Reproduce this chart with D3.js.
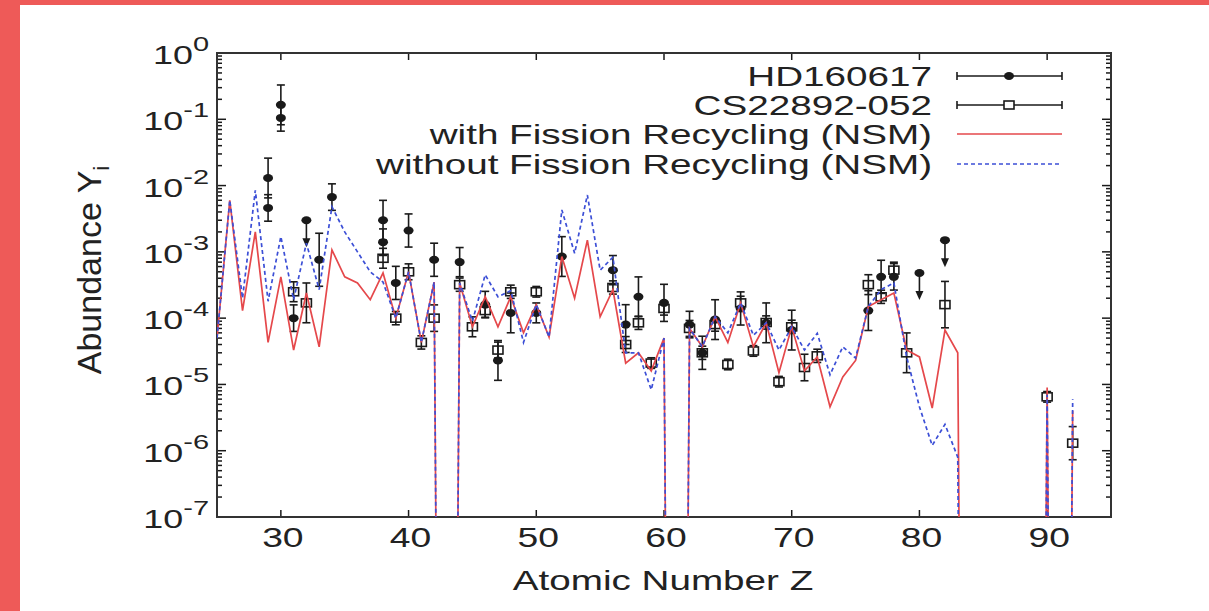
<!DOCTYPE html>
<html>
<head>
<meta charset="utf-8">
<script src="https://cdn.jsdelivr.net/npm/d3@7"></script>
<style>
  html, body { margin: 0; padding: 0; background: #fff; }
  svg text { font-family: "Liberation Sans", Arial, Helvetica, sans-serif; fill: #222; }
</style>
</head>
<body>
<div id="chart"></div>
<script>
// ---- data ----
const zGrid = d3.range(25, 93);   // 25 ... 92
// tiny = element with no abundance (Tc, Pm, Z>83 except Th/U)
const tiny = 1e-30;

// with fission recycling (NSM), red solid
const withFission = [
  5e-5, 6e-3, 1.3e-4, 2e-3, 4.3e-5, 4.2e-4, 3.3e-5, 2.4e-4, 3.7e-5, 1.07e-3,   // 25-34
  4.2e-4, 3.4e-4, 1.9e-4, 4.8e-4, 1e-4, 5e-4, 4.3e-5, 3.5e-4, tiny, 3.4e-4,     // 35-44
  7.4e-5, 2.1e-4, 7.4e-5, 2.1e-4, 6e-5, 1.6e-4, 5.2e-5, 8.5e-4, 2e-4, 1.5e-3,  // 45-54
  1.05e-4, 2.7e-4, 2.1e-5, 3e-5, 1.6e-5, 5e-5, tiny, 7e-5, 3.7e-5, 1.05e-4,     // 55-64
  4.3e-5, 1.7e-4, 3.7e-5, 8.5e-5, 1.5e-5, 7.4e-5, 1.6e-5, 2.6e-5, 4.6e-6, 1.3e-5, // 65-74
  2.3e-5, 1.5e-4, 1.9e-4, 2.4e-4, 3.3e-5, 2.6e-5, 4.4e-6, 6.6e-5, 3e-5, tiny,   // 75-84
  tiny, tiny, tiny, tiny, tiny, 9e-6, tiny, 4e-6                                  // 85-92
];

// without fission recycling (NSM), blue dashed
const withoutFission = [
  5e-5, 6e-3, 2e-4, 8.5e-3, 1.8e-4, 1.7e-3, 1.9e-4, 1.35e-3, 2.7e-4, 4.8e-3,    // 25-34
  2e-3, 1e-3, 5e-4, 3.5e-4, 1e-4, 5e-4, 4.3e-5, 3.5e-4, tiny, 3.4e-4,           // 35-44
  9e-5, 4.5e-4, 2.1e-4, 2.6e-4, 4.3e-5, 1.6e-4, 5.2e-5, 4.3e-3, 9.5e-4, 7.2e-3,  // 45-54
  5.3e-4, 8.3e-4, 3e-5, 3e-5, 8.3e-6, 5e-5, tiny, 7e-5, 3.7e-5, 1.05e-4,         // 55-64
  6e-5, 1.7e-4, 5.5e-5, 8.5e-5, 3.3e-5, 7.4e-5, 3.3e-5, 5.9e-5, 1.4e-5, 3.7e-5,  // 65-74
  2.5e-5, 1.5e-4, 2.7e-4, 3.4e-4, 2.6e-5, 4.6e-6, 1.2e-6, 2.5e-6, 8e-7, tiny,    // 75-84
  tiny, tiny, tiny, tiny, tiny, 7e-6, tiny, 6e-6                                   // 85-92
];

// HD160617 (filled circles), errors in dex
const hdZ   = [29, 29, 30, 30, 31, 33, 34, 38, 38, 39, 40, 42, 44, 46, 47, 48, 50, 52, 56, 57, 58, 60, 62, 63, 64, 66, 68, 70, 76, 77, 78];
const hdY   = [1.3e-2, 4.6e-3, 0.165, 0.105, 1e-4, 7.6e-4, 6.7e-3, 3e-3, 1.4e-3, 3.4e-4, 2.1e-3, 7.6e-4, 7e-4, 1.6e-4, 2.3e-5, 1.2e-4,
               1.2e-4, 8.5e-4, 5.3e-4, 8e-5, 2.1e-4, 1.7e-4, 8e-5, 3e-5, 9.5e-5, 1.4e-4, 8.5e-5, 6.6e-5, 1.3e-4, 4.2e-4, 4.2e-4];
const hdErr = [0.3, 0.2, 0.3, 0.2, 0.2, 0.4, 0.2, 0.3, 0.2, 0.25, 0.25, 0.25, 0.22, 0.2, 0.3, 0.3,
               0.15, 0.3, 0.22, 0.3, 0.3, 0.28, 0.2, 0.25, 0.3, 0.25, 0.3, 0.3, 0.3, 0.25, 0.2];
// HD160617 upper limits
const hdLimZ = [32, 80, 82];
const hdLimY = [3e-3, 4.8e-4, 1.5e-3];

// CS22892-052 (open squares), errors in dex
const csZ   = [31, 32, 38, 39, 40, 41, 42, 44, 45, 46, 47, 48, 50, 56, 57, 58, 59, 60, 62, 63, 64, 65, 66, 67, 68, 69, 70, 71, 72, 76, 77, 78, 79, 82, 90, 92];
const csY   = [2.5e-4, 1.7e-4, 8e-4, 1e-4, 5e-4, 4.3e-5, 1e-4, 3.2e-4, 7.4e-5, 1.3e-4, 3.3e-5, 2.5e-4, 2.5e-4, 2.9e-4, 4e-5, 8.5e-5, 2.1e-5, 1.4e-4,
               7e-5, 3e-5, 8e-5, 2e-5, 1.7e-4, 3.2e-5, 8.6e-5, 1.1e-5, 7.4e-5, 1.8e-5, 2.7e-5, 3.2e-4, 2.1e-4, 5.3e-4, 3e-5, 1.6e-4, 6.5e-6, 1.3e-6];
const csErr = [0.15, 0.3, 0.15, 0.1, 0.12, 0.1, 0.2, 0.1, 0.15, 0.1, 0.12, 0.1, 0.08, 0.1, 0.12, 0.1, 0.08, 0.1,
               0.12, 0.1, 0.1, 0.08, 0.1, 0.08, 0.1, 0.08, 0.1, 0.2, 0.1, 0.15, 0.1, 0.12, 0.3, 0.35, 0.08, 0.25];

const xTicks = [30, 40, 50, 60, 70, 80, 90];
const yExps  = [0, -1, -2, -3, -4, -5, -6, -7];
const legendLabels = ["HD160617", "CS22892-052", "with Fission Recycling (NSM)", "without Fission Recycling (NSM)"];

// ---- layout ----
const W = 1209, H = 611;
const plot = {left: 217, top: 53, right: 1111, bottom: 517};
const SX = 1.38;          // text in the source is stretched horizontally
const ink = "#1a1a1a";
const redCol = "#e5484b", blueCol = "#3c4fd6";

const svg = d3.select("#chart").append("svg")
    .attr("width", W)
    .attr("height", H);

// coral frame of the slide
svg.append("rect").attr("x", 0).attr("y", 0).attr("width", W).attr("height", 5).attr("fill", "#ee5a58");
svg.append("rect").attr("x", 0).attr("y", 0).attr("width", 20).attr("height", H).attr("fill", "#ee5a58");

const x = d3.scaleLinear().domain([25, 95]).range([plot.left, plot.right]);
const y = d3.scaleLog().domain([1e-7, 1]).range([plot.bottom, plot.top]);

// stretched text helper
function label(px, py, anchor, size) {
    return svg.append("g")
        .attr("transform", "translate(" + px + "," + py + ") scale(" + SX + ",1)")
      .append("text")
        .attr("text-anchor", anchor)
        .style("font-size", size + "px");
}

svg.append("clipPath").attr("id", "clip")
  .append("rect")
    .attr("x", plot.left).attr("y", plot.top)
    .attr("width", plot.right - plot.left).attr("height", plot.bottom - plot.top);

// ---- ticks (inward, mirrored) ----
const tickG = svg.append("g").attr("stroke", ink).attr("stroke-width", 1.5);
xTicks.forEach(function (t) {
    tickG.append("line").attr("x1", x(t)).attr("x2", x(t)).attr("y1", plot.bottom).attr("y2", plot.bottom - 7);
    tickG.append("line").attr("x1", x(t)).attr("x2", x(t)).attr("y1", plot.top).attr("y2", plot.top + 7);
    label(x(t) + 2, 547, "middle", 27).text(t);
});

const minorVals = [];
yExps.forEach(function (e) {
    if (e < 0) d3.range(2, 10).forEach(function (k) { minorVals.push(k * Math.pow(10, e)); });
});
yExps.forEach(function (e) {
    const yy = y(Math.pow(10, e));
    tickG.append("line").attr("x1", plot.left).attr("x2", plot.left + 9).attr("y1", yy).attr("y2", yy);
    tickG.append("line").attr("x1", plot.right).attr("x2", plot.right - 9).attr("y1", yy).attr("y2", yy);
    const t = label(209, yy + 11, "end", 26);
    t.append("tspan").text("10");
    t.append("tspan").attr("dy", -13).style("font-size", "21px").text(String(e));
});
minorVals.forEach(function (v) {
    const yy = y(v);
    tickG.append("line").attr("x1", plot.left).attr("x2", plot.left + 5).attr("y1", yy).attr("y2", yy);
    tickG.append("line").attr("x1", plot.right).attr("x2", plot.right - 5).attr("y1", yy).attr("y2", yy);
});

// frame
svg.append("rect")
    .attr("x", plot.left).attr("y", plot.top)
    .attr("width", plot.right - plot.left).attr("height", plot.bottom - plot.top)
    .attr("fill", "none").attr("stroke", "#333").attr("stroke-width", 2);

// axis titles
label(663, 590, "middle", 28).text("Atomic Number Z");

const yTitle = svg.append("text")
    .attr("transform", "translate(101,270) rotate(-90)")
    .attr("text-anchor", "middle")
    .style("font-size", "34px");
yTitle.append("tspan").text("Abundance Y");
yTitle.append("tspan").attr("dy", 8).style("font-size", "22px").text("i");

// ---- observations ----
const pts = svg.append("g").attr("clip-path", "url(#clip)")
    .attr("stroke", ink).attr("stroke-width", 1.6);

function errBar(g, z, v, dex) {
    const cx = x(z);
    const y1 = y(v * Math.pow(10, dex)), y2 = y(v / Math.pow(10, dex));
    g.append("line").attr("x1", cx).attr("x2", cx).attr("y1", y1).attr("y2", y2);
    g.append("line").attr("x1", cx - 4).attr("x2", cx + 4).attr("y1", y1).attr("y2", y1);
    g.append("line").attr("x1", cx - 4).attr("x2", cx + 4).attr("y1", y2).attr("y2", y2);
}

// HD160617
hdZ.forEach(function (z, i) { errBar(pts, z, hdY[i], hdErr[i]); });
pts.selectAll("ellipse.hd")
    .data(hdZ.map(function (z, i) { return {z: z, v: hdY[i]}; }))
    .enter().append("ellipse")
    .attr("class", "hd")
    .attr("cx", function (d) { return x(d.z); })
    .attr("cy", function (d) { return y(d.v); })
    .attr("rx", 5).attr("ry", 4)
    .attr("fill", ink).attr("stroke", "none");

// HD160617 upper limits
hdLimZ.forEach(function (z, i) {
    const cx = x(z), cy = y(hdLimY[i]);
    pts.append("ellipse").attr("cx", cx).attr("cy", cy).attr("rx", 5).attr("ry", 4).attr("fill", ink).attr("stroke", "none");
    pts.append("line").attr("x1", cx - 4).attr("x2", cx + 4).attr("y1", cy).attr("y2", cy);
    pts.append("line").attr("x1", cx).attr("x2", cx).attr("y1", cy).attr("y2", cy + 22);
    pts.append("path")
        .attr("d", "M" + (cx - 4) + "," + (cy + 18) + "L" + (cx + 4) + "," + (cy + 18) + "L" + cx + "," + (cy + 27) + "Z")
        .attr("fill", ink).attr("stroke", "none");
});

// CS22892-052
csZ.forEach(function (z, i) { errBar(pts, z, csY[i], csErr[i]); });
pts.selectAll("rect.cs")
    .data(csZ.map(function (z, i) { return {z: z, v: csY[i]}; }))
    .enter().append("rect")
    .attr("class", "cs")
    .attr("x", function (d) { return x(d.z) - 5; })
    .attr("y", function (d) { return y(d.v) - 4; })
    .attr("width", 10).attr("height", 8)
    .attr("fill", "none");

// ---- model lines (drawn on top, like the original) ----
const line = d3.line()
    .x(function (d) { return x(d[0]); })
    .y(function (d) { return y(d[1]); });

const lines = svg.append("g").attr("clip-path", "url(#clip)").attr("fill", "none");
lines.append("path")
    .attr("d", line(zGrid.map(function (z, i) { return [z, withFission[i]]; })))
    .attr("stroke", redCol).attr("stroke-width", 1.7);
lines.append("path")
    .attr("d", line(zGrid.map(function (z, i) { return [z, withoutFission[i]]; })))
    .attr("stroke", blueCol).attr("stroke-width", 1.7)
    .attr("stroke-dasharray", "4,3");

// ---- legend ----
const legY = [76, 105, 134, 164];
const sx1 = 957, sx2 = 1062, smid = 1009;
legendLabels.forEach(function (t, i) {
    label(932, legY[i] + 10, "end", 28).text(t);
});
const leg = svg.append("g").attr("stroke", ink).attr("stroke-width", 1.6);
[0, 1].forEach(function (i) {
    const ly = legY[i];
    leg.append("line").attr("x1", sx1).attr("x2", sx2).attr("y1", ly).attr("y2", ly);
    leg.append("line").attr("x1", sx1).attr("x2", sx1).attr("y1", ly - 4).attr("y2", ly + 4);
    leg.append("line").attr("x1", sx2).attr("x2", sx2).attr("y1", ly - 4).attr("y2", ly + 4);
});
leg.append("ellipse").attr("cx", smid).attr("cy", legY[0]).attr("rx", 5).attr("ry", 4).attr("fill", ink).attr("stroke", "none");
leg.append("rect").attr("x", smid - 5).attr("y", legY[1] - 4).attr("width", 10).attr("height", 8).attr("fill", "#fff");
svg.append("line").attr("x1", sx1).attr("x2", sx2).attr("y1", legY[2]).attr("y2", legY[2])
    .attr("stroke", redCol).attr("stroke-width", 1.7);
svg.append("line").attr("x1", sx1).attr("x2", sx2).attr("y1", legY[3]).attr("y2", legY[3])
    .attr("stroke", blueCol).attr("stroke-width", 1.7).attr("stroke-dasharray", "4,3");
</script>
</body>
</html>
